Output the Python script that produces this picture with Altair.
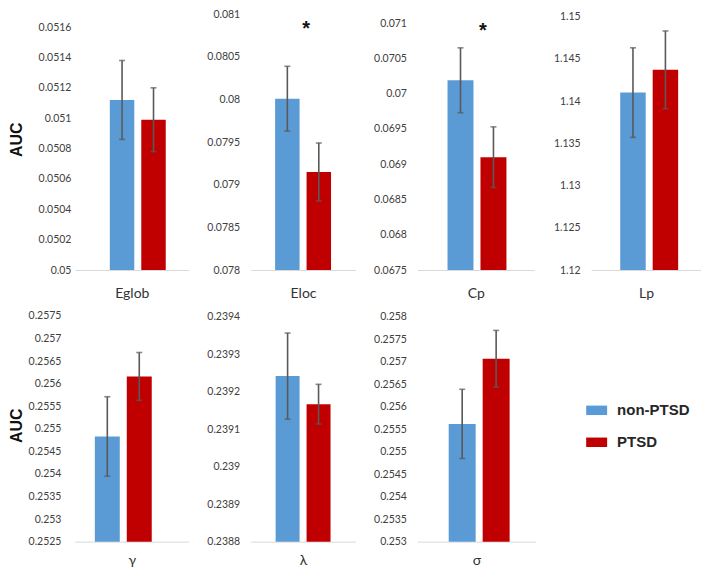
import altair as alt
import pandas as pd

# ---------------- data ----------------
groups = ["non-PTSD", "PTSD"]
group_colors = ["#5B9BD5", "#C00000"]

measures = ["Eglob", "Eloc", "Cp", "Lp", "γ", "λ", "σ"]
nonptsd_mean = [0.05112, 0.08001, 0.07019, 1.1410, 0.25483, 0.239242, 0.25562]
ptsd_mean = [0.05099, 0.07915, 0.06910, 1.1437, 0.25616, 0.239167, 0.25707]
nonptsd_err = [0.00026, 0.00038, 0.00046, 0.0053, 0.00088, 0.000115, 0.00077]
ptsd_err = [0.00021, 0.00034, 0.00043, 0.0046, 0.00053, 0.000053, 0.00063]

eglob_ticks = [0.05, 0.0502, 0.0504, 0.0506, 0.0508, 0.051, 0.0512, 0.0514, 0.0516]
eloc_ticks = [0.078, 0.0785, 0.079, 0.0795, 0.08, 0.0805, 0.081]
cp_ticks = [0.0675, 0.068, 0.0685, 0.069, 0.0695, 0.07, 0.0705, 0.071]
lp_ticks = [1.12, 1.125, 1.13, 1.135, 1.14, 1.145, 1.15]
gamma_ticks = [0.2525, 0.253, 0.2535, 0.254, 0.2545, 0.255, 0.2555, 0.256, 0.2565, 0.257, 0.2575]
lambda_ticks = [0.2388, 0.2389, 0.239, 0.2391, 0.2392, 0.2393, 0.2394]
sigma_ticks = [0.253, 0.2535, 0.254, 0.2545, 0.255, 0.2555, 0.256, 0.2565, 0.257, 0.2575, 0.258]
tick_lists = [eglob_ticks, eloc_ticks, cp_ticks, lp_ticks, gamma_ticks, lambda_ticks, sigma_ticks]

# top of each panel's value axis (a little headroom above the last tick)
axis_top = [0.051723, 0.081069, 0.071209, 1.150966, 0.257654, 0.2394212, 0.258177]

# significance markers (measure -> height in data units)
significance = {"Eloc": 0.08085, "Cp": 0.07092}

# ---------------- layout / style ----------------
panel_width = [114, 105, 117, 110, 114, 105, 118]
bar_width = [24.5, 24.5, 26, 25.5, 25, 24, 27]
bar_align = [0.603, 0.5, 0.52, 0.56, 0.35, 0.5, 0.55]
bar_gap = 7
star_dx = {"Eloc": 3, "Cp": 7}
top_height = 262
bottom_height = 233

TICK_FONT = "Lato"
ERR_COLOR = "#595959"

legend = alt.Legend(
    title=None,
    orient="none",
    legendX=512,
    legendY=392,
    direction="vertical",
    symbolType="M-1,-0.45H1V0.45H-1Z",
    symbolSize=441,
    symbolStrokeWidth=0,
    symbolOpacity=1,
    labelFont="Liberation Sans",
    labelFontWeight="bold",
    labelFontSize=15,
    labelColor="#262626",
    labelOffset=10,
    rowPadding=13,
)


def panel(i, height, first, auc_pad, label_pad, xtitle_pad):
    name = measures[i]
    ticks = tick_lists[i]
    w = panel_width[i]
    step = bar_width[i] + bar_gap
    p_inner = bar_gap / step
    p_outer = (w / step - 2 + p_inner) / 2

    df = pd.DataFrame({
        "group": groups,
        "mean": [nonptsd_mean[i], ptsd_mean[i]],
        "err": [nonptsd_err[i], ptsd_err[i]],
    })
    df["lo"] = df["mean"] - df["err"]
    df["hi"] = df["mean"] + df["err"]

    yscale = alt.Scale(domain=[ticks[0], axis_top[i]], nice=False, zero=False)
    xscale = alt.Scale(paddingInner=p_inner, paddingOuter=p_outer, align=bar_align[i])
    x_axis = alt.Axis(
        labels=False, ticks=False, domain=True, domainColor="#D9D9D9", domainWidth=1,
        grid=False, title=name, titleFont="Lato", titleFontSize=14,
        titleFontWeight="normal", titleColor="#333333", titlePadding=xtitle_pad,
    )
    y_axis_kwargs = dict(
        values=ticks, format="~g", domain=False, ticks=False, grid=False,
        labelFont=TICK_FONT, labelFontSize=10.5, labelColor="#404040",
        labelPadding=label_pad,
    )
    if first:
        y_axis = alt.Axis(title="AUC", titleFont="Liberation Sans", titleFontSize=16,
                          titleFontWeight="bold", titleColor="#111111",
                          titlePadding=auc_pad, **y_axis_kwargs)
        ytitle = "AUC"
    else:
        y_axis = alt.Axis(title=None, **y_axis_kwargs)
        ytitle = None

    base = alt.Chart(df)
    x = alt.X("group:N", sort=groups, scale=xscale, axis=x_axis)

    def yenc(field):
        return alt.Y(field, scale=yscale, axis=y_axis, title=ytitle)

    bars = base.mark_bar().encode(
        x=x,
        y=yenc("mean:Q"),
        y2=alt.datum(ticks[0]),
        color=alt.Color("group:N", sort=groups,
                        scale=alt.Scale(domain=groups, range=group_colors),
                        legend=legend),
    )
    rule = base.mark_rule(color=ERR_COLOR, strokeWidth=1.6).encode(
        x=x, y=yenc("lo:Q"), y2="hi:Q",
    )
    cap_lo = base.mark_tick(color=ERR_COLOR, size=6, thickness=1.6).encode(
        x=x, y=yenc("lo:Q"),
    )
    cap_hi = base.mark_tick(color=ERR_COLOR, size=6, thickness=1.6).encode(
        x=x, y=yenc("hi:Q"),
    )
    layers = [bars, rule, cap_lo, cap_hi]
    if name in significance:
        star = alt.Chart(pd.DataFrame({"y": [significance[name]]})).mark_text(
            text="*", font="Liberation Sans", fontSize=20, fontWeight="bold",
            color="#111111", dx=star_dx[name], dy=2,
        ).encode(
            x=alt.value(w / 2),
            y=yenc("y:Q"),
        )
        layers.append(star)
    return alt.layer(*layers).properties(width=w, height=height)


panels = [
    panel(0, top_height, True, 14, 4, 17),
    panel(1, top_height, False, 0, 11, 17),
    panel(2, top_height, False, 0, 11, 17),
    panel(3, top_height, False, 0, 11, 17),
    panel(4, bottom_height, True, 4, 14, 12),
    panel(5, bottom_height, False, 0, 11, 12),
    panel(6, bottom_height, False, 0, 11, 12),
]

chart = alt.concat(
    *panels, columns=4, align="none", spacing={"row": 8, "column": 18}
).properties(
    padding={"left": 0, "top": 0, "right": 0, "bottom": 0}
).configure_view(stroke=None)

chart.save("out.html", embed_options={"renderer": "svg", "actions": False})
